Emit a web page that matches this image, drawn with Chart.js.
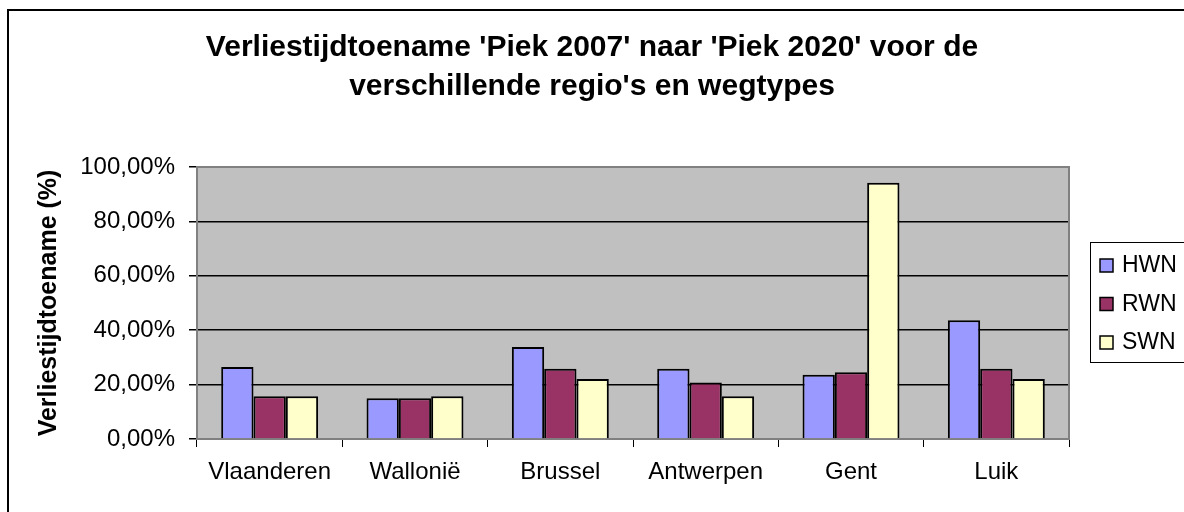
<!DOCTYPE html>
<html>
<head>
<meta charset="utf-8">
<script src="https://cdn.jsdelivr.net/npm/chart.js@4/dist/chart.umd.min.js"></script>
<style>
  html, body { margin: 0; padding: 0; background: #fff; }
  #wrap { width: 1184px; height: 512px; }
</style>
</head>
<body>
<div id="wrap"><canvas id="verliesChart" width="1184" height="512"></canvas></div>
<script>
// regio's en wegtypes
var regios = ['Vlaanderen', 'Wallonië', 'Brussel', 'Antwerpen', 'Gent', 'Luik'];
var hwn = [26.5, 15.0, 33.8, 25.8, 23.6, 43.7];
var rwn = [15.7, 15.0, 25.8, 20.8, 24.5, 25.8];
var swn = [15.7, 15.7, 22.1, 15.7, 94.2, 22.1];
var titelRegels = ["Verliestijdtoename 'Piek 2007' naar 'Piek 2020' voor de", "verschillende regio's en wegtypes"];
var asTitel = 'Verliestijdtoename (%)';

var FONT = "'Liberation Sans', Arial, sans-serif";

// kader, titel, grijze achtergrond en legende tekenen
var excelStijl = {
  id: 'excelStijl',
  beforeDraw: function (chart) {
    var c = chart.ctx, a = chart.chartArea;
    c.save();
    c.fillStyle = '#fff';
    c.fillRect(0, 0, chart.width, chart.height);
    c.fillStyle = '#c0c0c0';
    c.fillRect(a.left, a.top, a.right - a.left, a.bottom - a.top);
    c.restore();
  },
  beforeDatasetsDraw: function (chart) {
    var c = chart.ctx, a = chart.chartArea;
    c.save();
    c.strokeStyle = '#808080';
    c.lineWidth = 2;
    c.strokeRect(a.left, a.top, a.right - a.left, a.bottom - a.top);
    c.restore();
  },
  afterDraw: function (chart) {
    var c = chart.ctx;
    c.save();
    // buitenkader
    c.strokeStyle = '#000';
    c.lineWidth = 2;
    c.strokeRect(8, 10, chart.width + 20, chart.height + 20);

    // titel
    c.fillStyle = '#000';
    c.font = 'bold 30px ' + FONT;
    c.textAlign = 'center';
    c.textBaseline = 'middle';
    titelRegels.forEach(function (t, i) {
      c.fillText(t, 592, 48 + i * 39);
    });

    // legende
    c.lineWidth = 1;
    c.strokeRect(1090.5, 242.5, 120, 120);
    c.font = '23px ' + FONT;
    c.textAlign = 'left';
    chart.data.datasets.forEach(function (ds, i) {
      var y = 265 + i * 38.5;
      c.fillStyle = ds.backgroundColor;
      c.fillRect(1100, y - 6, 13, 13);
      c.strokeStyle = '#000';
      c.lineWidth = 1.5;
      c.strokeRect(1100, y - 6, 13, 13);
      c.fillStyle = '#000';
      c.fillText(ds.label, 1122, y + 1);
    });
    c.restore();
  }
};

var ctx = document.getElementById('verliesChart').getContext('2d');
var verliesChart = new Chart(ctx, {
  type: 'bar',
  data: {
    labels: regios,
    datasets: [
      { label: 'HWN', data: hwn, backgroundColor: '#9999ff' },
      { label: 'RWN', data: rwn, backgroundColor: '#993366' },
      { label: 'SWN', data: swn, backgroundColor: '#ffffcc' }
    ]
  },
  options: {
    responsive: false,
    animation: false,
    layout: { padding: { left: 0, right: 115, top: 167, bottom: 0 } },
    datasets: {
      bar: {
        borderColor: '#000',
        borderWidth: 2,
        categoryPercentage: 0.667,
        barPercentage: 1.0
      }
    },
    plugins: {
      legend: { display: false },
      title: { display: false },
      tooltip: { enabled: false }
    },
    scales: {
      x: {
        afterFit: function (s) { s.height = 73; },
        grid: { drawOnChartArea: false, drawTicks: true, tickLength: 8, color: '#000', offset: true },
        border: { display: true, color: '#808080', width: 2 },
        ticks: { color: '#000', padding: 11, font: { family: FONT, size: 24 } }
      },
      y: {
        min: 0,
        max: 100,
        afterFit: function (s) { s.width = 197; },
        grid: { color: '#000', lineWidth: 1.5, tickLength: 8, drawTicks: true },
        border: { display: true, color: '#808080', width: 2 },
        ticks: {
          stepSize: 20,
          color: '#000',
          padding: 14,
          font: { family: FONT, size: 24 },
          callback: function (v) { return v.toFixed(2).replace('.', ',') + '%'; }
        },
        title: {
          display: true,
          text: asTitel,
          color: '#000',
          padding: { top: 34, bottom: 0 },
          font: { family: FONT, size: 25, weight: 'bold' }
        }
      }
    }
  },
  plugins: [excelStijl]
});
</script>
</body>
</html>
